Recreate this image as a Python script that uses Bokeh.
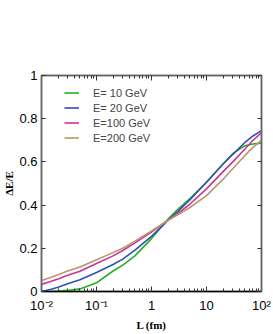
from bokeh.plotting import figure
from bokeh.models import FixedTicker, LinearAxis, LogAxis, Legend, LegendItem
from bokeh.embed import file_html
from bokeh.resources import INLINE

# ---- data ----
L_fm = [0.01, 0.015, 0.02, 0.03, 0.05, 0.1, 0.2, 0.3, 0.5, 1, 2, 3, 5, 10, 20, 30, 50, 70, 100]
dE_10GeV = [0.0, 0.0, 0.002, 0.005, 0.012, 0.04, 0.095, 0.122, 0.165, 0.245, 0.335, 0.38, 0.43, 0.506, 0.59, 0.638, 0.675, 0.683, 0.687]
dE_20GeV = [0.0, 0.01, 0.02, 0.036, 0.054, 0.088, 0.125, 0.15, 0.192, 0.255, 0.33, 0.37, 0.425, 0.506, 0.59, 0.635, 0.69, 0.72, 0.745]
dE_100GeV = [0.033, 0.047, 0.058, 0.075, 0.094, 0.13, 0.165, 0.19, 0.225, 0.275, 0.33, 0.36, 0.405, 0.475, 0.555, 0.60, 0.66, 0.70, 0.735]
dE_200GeV = [0.051, 0.066, 0.078, 0.095, 0.113, 0.147, 0.18, 0.2, 0.233, 0.28, 0.33, 0.355, 0.389, 0.444, 0.52, 0.568, 0.63, 0.667, 0.70]

series_labels = ["E= 10 GeV", "E= 20 GeV", "E=100 GeV", "E=200 GeV"]
series_colors = ["#22b022", "#3050b4", "#cc3399", "#b8986a"]

x_ticks = [0.01, 0.1, 1, 10, 100]
x_tick_labels = ["10\u207b\u00b2", "10\u207b\u00b9", "1", "10", "10\u00b2"]
y_ticks = [0, 0.2, 0.4, 0.6, 0.8, 1.0]
y_tick_labels = ["0", "0.2", "0.4", "0.6", "0.8", "1"]

FONT = "Liberation Sans"
SERIF = "Liberation Serif"

p = figure(frame_width=220, frame_height=216, x_axis_type="log",
           x_range=(0.01, 100), y_range=(0, 1),
           output_backend="svg", toolbar_location=None,
           min_border_left=30, min_border_right=12,
           min_border_top=75, min_border_bottom=30)
p.xgrid.visible = False
p.ygrid.visible = False
p.background_fill_color = "white"
p.border_fill_color = "white"
p.outline_line_color = "#666666"
p.outline_line_width = 1.5

minor = [k * t for t in x_ticks[:-1] for k in range(2, 10)]

def style_x(ax, line_color, show):
    ax.ticker = FixedTicker(ticks=x_ticks, minor_ticks=minor)
    ax.major_tick_in = 5
    ax.major_tick_out = 0
    ax.minor_tick_in = 3
    ax.minor_tick_out = 0
    ax.major_tick_line_color = "#333333"
    ax.minor_tick_line_color = "#333333"
    ax.axis_line_color = line_color
    ax.axis_line_width = 1.5
    if show:
        ax.major_label_overrides = {t: s for t, s in zip(x_ticks, x_tick_labels)}
        ax.major_label_text_font = FONT
        ax.major_label_text_font_size = "13px"
        ax.major_label_text_color = "black"
        ax.major_label_standoff = 6
        ax.axis_label = "L (fm)"
        ax.axis_label_text_font = SERIF
        ax.axis_label_text_font_style = "bold"
        ax.axis_label_text_font_size = "11px"
        ax.axis_label_text_color = "black"
        ax.axis_label_standoff = 3
    else:
        ax.major_label_overrides = {t: " " for t in x_ticks}
        ax.major_label_text_font_size = "2px"
        ax.major_label_standoff = 0

def style_y(ax, show):
    ax.ticker = FixedTicker(ticks=y_ticks)
    ax.major_tick_in = 4
    ax.major_tick_out = 0
    ax.minor_tick_line_color = None
    ax.major_tick_line_color = "#333333"
    ax.axis_line_color = "#666666"
    ax.axis_line_width = 1.5
    if show:
        ax.major_label_overrides = {t: s for t, s in zip(y_ticks, y_tick_labels)}
        ax.major_label_text_font = FONT
        ax.major_label_text_font_size = "13px"
        ax.major_label_text_color = "black"
        ax.major_label_standoff = 4
        ax.axis_label = "\u0394E/E"
        ax.axis_label_text_font = SERIF
        ax.axis_label_text_font_style = "bold"
        ax.axis_label_text_font_size = "11px"
        ax.axis_label_text_color = "black"
        ax.axis_label_standoff = 1
    else:
        ax.major_label_overrides = {t: " " for t in y_ticks}
        ax.major_label_text_font_size = "2px"
        ax.major_label_standoff = 0

style_x(p.xaxis[0], "black", True)
style_y(p.yaxis[0], True)

top = LogAxis()
style_x(top, "#666666", False)
p.add_layout(top, "above")
right = LinearAxis()
style_y(right, False)
p.add_layout(right, "right")

renderers = []
for ys, c in zip([dE_10GeV, dE_20GeV, dE_100GeV, dE_200GeV], series_colors):
    r = p.line(L_fm, ys, line_color=c, line_width=1.6)
    renderers.append(r)

legend = Legend(items=[LegendItem(label=lab, renderers=[r]) for lab, r in zip(series_labels, renderers)],
                location=(23, 146), padding=0, margin=0, spacing=0,
                glyph_width=15, glyph_height=15, label_height=15, label_standoff=14,
                label_text_font=FONT, label_text_font_size="11px",
                border_line_color=None, background_fill_alpha=0)
p.add_layout(legend)

open("out.html", "w").write(file_html(p, INLINE))
